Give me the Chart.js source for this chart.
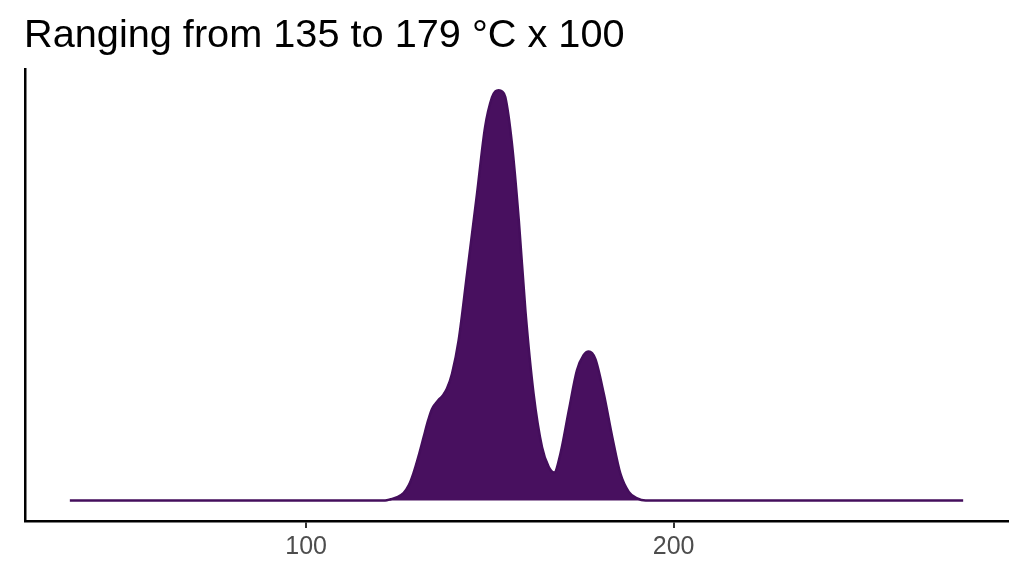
<!DOCTYPE html>
<html>
<head>
<meta charset="utf-8">
<script src="https://cdn.jsdelivr.net/npm/chart.js@4.4.0/dist/chart.umd.min.js"></script>
<style>
  body { margin: 0; background: #fff; }
  #wrap { width: 1024px; height: 576px; }
</style>
</head>
<body>
<div id="wrap"><canvas id="densityChart" width="1024" height="576"></canvas></div>
<script>
// temperature (°C x 100 scale on axis) and scaled density
const temps = [35.7, 121.5, 123, 124.8, 126.5, 128, 129.2, 130.6, 132.0, 133.2, 134.2, 135.2, 136.0,
  137.2, 138.3, 139.7, 141.5, 143.8, 146.5, 148.7, 150.6, 151.5, 152.4, 153.3, 154.2, 156.0, 157.9, 159.7,
  161.9, 164.2, 166.0, 167.5, 169.2, 171.5, 173.7, 175.5, 176.9, 178.7, 181.0, 183.3, 185.5,
  187.8, 190.1, 192.4, 278.8];
const density = [0, 0, 0.003, 0.008, 0.018, 0.038, 0.066, 0.108, 0.155, 0.195, 0.222, 0.236, 0.245,
  0.256, 0.272, 0.309, 0.39, 0.553, 0.747, 0.91, 0.983, 0.997, 1.0, 0.997, 0.983, 0.87, 0.68, 0.46,
  0.26, 0.13, 0.082, 0.068, 0.114, 0.22, 0.317, 0.354, 0.363, 0.345, 0.26, 0.155, 0.066,
  0.021, 0.005, 0, 0];
const xTicks = [100, 200];
const titleText = 'Ranging from 135 to 179 °C x 100';

const points = temps.map((t, i) => ({ x: t, y: density[i] }));

const ctx = document.getElementById('densityChart').getContext('2d');
const densityChart = new Chart(ctx, {
  type: 'line',
  data: {
    datasets: [{
      data: points,
      borderColor: '#440E5C',
      backgroundColor: '#48105F',
      borderWidth: 2.5,
      fill: 'origin',
      pointRadius: 0,
      cubicInterpolationMode: 'monotone',
    }],
  },
  options: {
    responsive: false,
    animation: false,
    layout: { padding: { left: 24, right: 16, top: 4, bottom: 10 } },
    plugins: {
      legend: { display: false },
      tooltip: { enabled: false },
      title: {
        display: true,
        text: titleText,
        align: 'start',
        color: '#000',
        font: { family: 'Liberation Sans', size: 39.7, weight: 'normal' },
        padding: { top: 8, bottom: 10 },
      },
    },
    scales: {
      x: {
        type: 'linear',
        min: 23.5,
        max: 291,
        afterBuildTicks: (axis) => { axis.ticks = xTicks.map(v => ({ value: v })); },
        grid: { display: true, drawOnChartArea: false, drawTicks: true, tickLength: 7, color: '#333', lineWidth: 2 },
        border: { display: true, color: '#000', width: 2.5 },
        ticks: {
          color: '#4D4D4D',
          font: { family: 'Liberation Sans', size: 25 },
          padding: 4,
        },
      },
      y: {
        min: -0.05,
        max: 1.05,
        afterFit: (axis) => { axis.width = 1; },
        grid: { display: false },
        border: { display: true, color: '#000', width: 2.5 },
        ticks: { display: false },
      },
    },
  },
});
</script>
</body>
</html>
